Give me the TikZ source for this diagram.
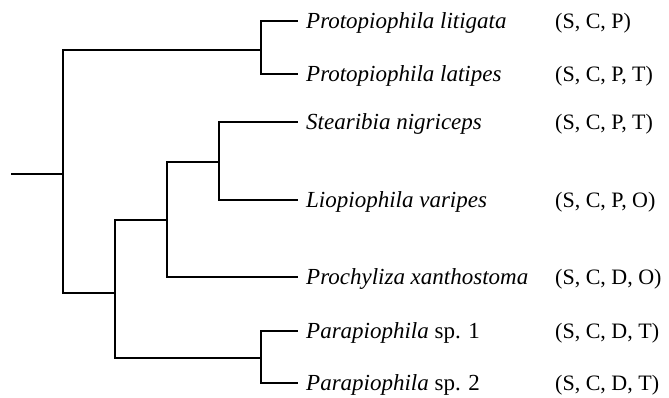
\documentclass[tikz,border=0pt]{standalone}
\usepackage{fontspec}
\setmainfont{Liberation Serif}
\begin{document}
\begin{tikzpicture}[x=1pt, y=-1pt,
    branch/.style={draw=black, line width=2pt, line cap=rect},
    taxon/.style={anchor=west, inner xsep=9pt, inner ysep=0pt, text height=15pt, text depth=0pt, font=\fontsize{23}{27}\selectfont\itshape},
    habitat/.style={anchor=west, inner sep=0pt, text height=15pt, text depth=0pt, font=\fontsize{22}{26}\selectfont}]
    \useasboundingbox (0,0) rectangle (669,398);
    \def\leafX{297}
    \def\colX{555}

    % Internal nodes of the tree
    \coordinate (root) at (12,174);
    \coordinate (n0) at (63,174);
    \coordinate (nProto) at (261,50);
    \coordinate (nRest) at (115,293);
    \coordinate (nPiop) at (167,220);
    \coordinate (nStea) at (219,162);
    \coordinate (nPara) at (261,358);

    % Taxa
    \node[taxon] (t1) at (\leafX,21) {Protopiophila litigata};
    \node[taxon] (t2) at (\leafX,74) {Protopiophila latipes};
    \node[taxon] (t3) at (\leafX,122) {Stearibia nigriceps};
    \node[taxon] (t4) at (\leafX,200) {Liopiophila varipes};
    \node[taxon] (t5) at (\leafX,277) {Prochyliza xanthostoma};
    \node[taxon] (t6) at (\leafX,331) {Parapiophila \upshape sp. 1};
    \node[taxon] (t7) at (\leafX,383) {Parapiophila \upshape sp. 2};

    % Habitat codes
    \node[habitat] (h1) at (\colX,21) {(S, C, P)};
    \node[habitat] (h2) at (\colX,74) {(S, C, P, T)};
    \node[habitat] (h3) at (\colX,122) {(S, C, P, T)};
    \node[habitat] (h4) at (\colX,200) {(S, C, P, O)};
    \node[habitat] (h5) at (\colX,277) {(S, C, D, O)};
    \node[habitat] (h6) at (\colX,331) {(S, C, D, T)};
    \node[habitat] (h7) at (\colX,383) {(S, C, D, T)};

    % Draw branches
    \draw[branch] (root) -- (n0);
    \draw[branch] (n0) |- (nProto);
    \draw[branch] (n0) |- (nRest);
    \draw[branch] (nProto) |- (t1.west);
    \draw[branch] (nProto) |- (t2.west);
    \draw[branch] (nRest) |- (nPiop);
    \draw[branch] (nRest) |- (nPara);
    \draw[branch] (nPiop) |- (nStea);
    \draw[branch] (nPiop) |- (t5.west);
    \draw[branch] (nStea) |- (t3.west);
    \draw[branch] (nStea) |- (t4.west);
    \draw[branch] (nPara) |- (t6.west);
    \draw[branch] (nPara) |- (t7.west);
\end{tikzpicture}
\end{document}
